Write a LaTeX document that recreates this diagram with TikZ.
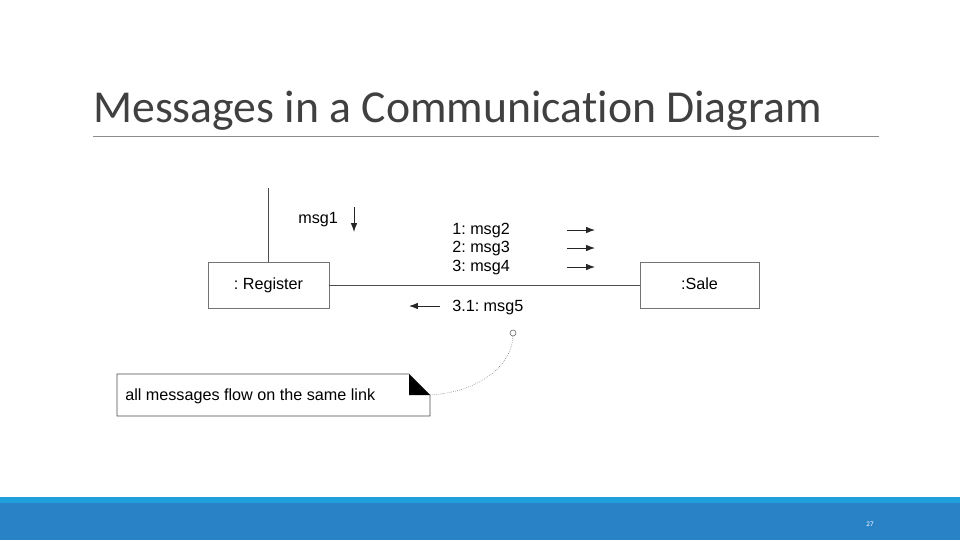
\documentclass[tikz,border=0pt]{standalone}
\usepackage{fontspec}
\setmainfont[Ligatures=NoCommon]{Carlito}
\newfontfamily\diagfont{Liberation Sans}
\usetikzlibrary{positioning, calc, arrows.meta}
\definecolor{barblue}{HTML}{2A82C6}
\definecolor{stripeblue}{HTML}{1FA0DB}
\definecolor{titlegray}{HTML}{404040}
\frenchspacing

\begin{document}
\begin{tikzpicture}[
    x=0.025cm, y=-0.025cm,
    objbox/.style={rectangle, draw=black!55, minimum width=121*0.025cm, minimum height=46*0.025cm, text height=8pt, text depth=2pt, font=\diagfont\fontsize{11.5}{13}\selectfont},
    lbl/.style={font=\diagfont\fontsize{11.5}{13}\selectfont, inner sep=0pt, anchor=base west},
    msgarrow/.style={-{Latex[length=2.2mm,width=1.6mm]}, black!85, semithick}
]
\useasboundingbox (0,0) rectangle (960,540);
\fill[white] (0,0) rectangle (960,540);

% Title
\node[anchor=base west, inner sep=0pt, text=titlegray, font=\fontsize{32.5}{36}\selectfont] (title) at (93,122) {Messages in a Communication Diagram};
\draw[black!45] (93,136) -- (879,136);

% Footer
\fill[barblue] (0,497) rectangle (960,540);
\fill[stripeblue] (0,497) rectangle (960,503);
\node[text=white, font=\fontsize{5}{6}\selectfont] (page) at (870,524) {27};

% Objects
\node[objbox] (register) at (268.5,285) {: Register};
\node[objbox, minimum width=119*0.025cm] (sale) at (699.5,285) {:Sale};
\coordinate (top) at (268,188);
\draw[black!70] (register) -- (sale);
\draw[black!70] (top) -- (register.north -| top);

% Messages
\node[lbl] (m1) at (298,223) {msg1};
\coordinate (d1) at (354,207);
\coordinate (d2) at (354,232);
\draw[msgarrow] (d1) -- (d2);

\node[lbl] (m2) at (452,234) {1: msg2};
\node[lbl] (m3) at (452,252) {2: msg3};
\node[lbl] (m4) at (452,271) {3: msg4};
\foreach \yy in {230,248,267} {
  \draw[msgarrow] (567,\yy) -- (595,\yy);
}
\node[lbl] (m5) at (452,311) {3.1: msg5};
\coordinate (r1) at (440,306);
\coordinate (r2) at (409,306);
\draw[msgarrow] (r1) -- (r2);

% Note
\coordinate (anchorpt) at (513,333);
\draw[black!60] (anchorpt) circle (3);
\path[draw=black!70] (117,374) -- (409,374) -- (430,395) -- (430,416) -- (117,416) -- cycle;
\fill (409,374) -- (430,395) -- (409,395) -- cycle;
\node[lbl] (note) at (125,400) {all messages flow on the same link};
\coordinate (fold) at (430,395);
\draw[densely dotted, black!60] (fold) .. controls (480,392) and (512,365) .. ($(anchorpt)+(0,3)$);
\end{tikzpicture}
\end{document}
